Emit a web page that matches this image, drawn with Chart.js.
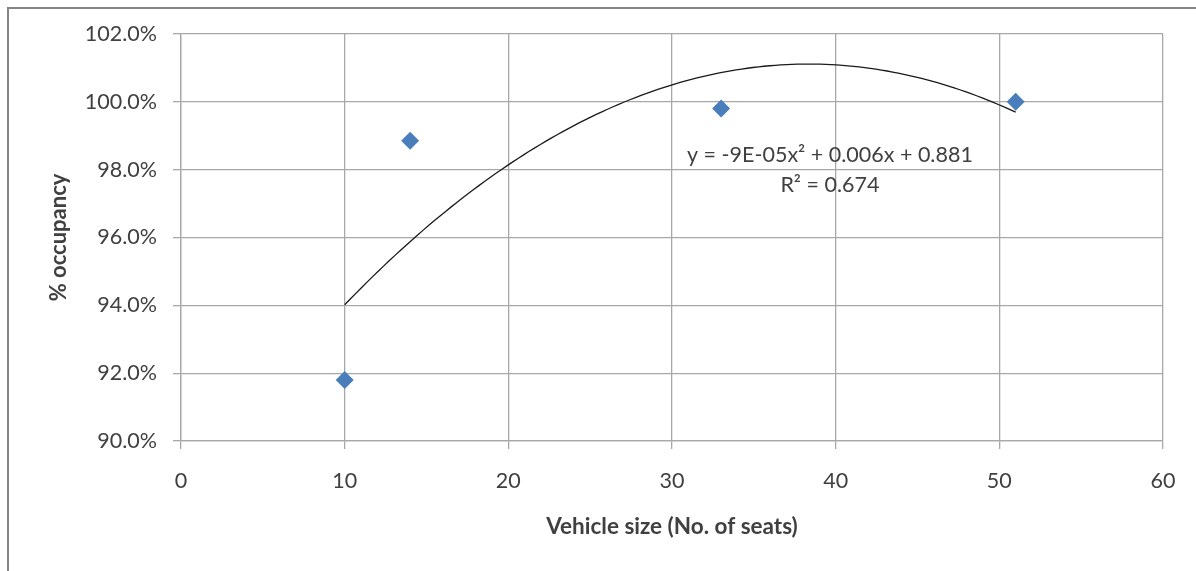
<!DOCTYPE html>
<html>
<head>
<meta charset="utf-8">
<title>Occupancy vs vehicle size</title>
<script src="https://cdn.jsdelivr.net/npm/chart.js@4/dist/chart.umd.min.js"></script>
<style>
  html, body { margin: 0; padding: 0; background: #ffffff; }
  #wrap { position: relative; width: 1196px; height: 571px; }
</style>
</head>
<body>
<div id="wrap"><canvas id="chart" width="1196" height="571"></canvas></div>
<script>
// Observed occupancy by vehicle size
const vehicleSeats = [10, 14, 33, 51];
const occupancy = [0.918, 0.9885, 0.998, 1.000];

// Axis ranges and ticks
const xTicks = [0, 10, 20, 30, 40, 50, 60];
const yTicks = [0.90, 0.92, 0.94, 0.96, 0.98, 1.00, 1.02];

// Trendline annotation text
const trendLabel = ['y = -9E-05x\u00B2 + 0.006x + 0.881', 'R\u00B2 = 0.674'];

const xTitle = 'Vehicle size (No. of seats)';
const yTitle = '% occupancy';

// Least-squares quadratic fit (y = a x^2 + b x + c) of the observations
function quadFit(xs, ys) {
  let s = [0, 0, 0, 0, 0], t = [0, 0, 0];
  xs.forEach((x, i) => {
    for (let k = 0; k < 5; k++) s[k] += Math.pow(x, k);
    for (let k = 0; k < 3; k++) t[k] += Math.pow(x, k) * ys[i];
  });
  // Normal equations, columns ordered c, b, a
  const M = [
    [s[0], s[1], s[2], t[0]],
    [s[1], s[2], s[3], t[1]],
    [s[2], s[3], s[4], t[2]]
  ];
  for (let i = 0; i < 3; i++) {
    for (let j = i + 1; j < 3; j++) {
      const f = M[j][i] / M[i][i];
      for (let k = i; k < 4; k++) M[j][k] -= f * M[i][k];
    }
  }
  const r = [0, 0, 0];
  for (let i = 2; i >= 0; i--) {
    let v = M[i][3];
    for (let k = i + 1; k < 3; k++) v -= M[i][k] * r[k];
    r[i] = v / M[i][i];
  }
  return { c: r[0], b: r[1], a: r[2] };
}

const fit = quadFit(vehicleSeats, occupancy);
const xFirst = Math.min(...vehicleSeats);
const xLast = Math.max(...vehicleSeats);
const trendPoints = [];
for (let i = 0; i <= 120; i++) {
  const x = xFirst + (xLast - xFirst) * i / 120;
  trendPoints.push({ x: x, y: fit.a * x * x + fit.b * x + fit.c });
}

const FONT = 'Lato, "Open Sans", sans-serif';
const TEXT = '#404040';
const GRID = '#a8a8a8';

// Outer frame around the chart
const framePlugin = {
  id: 'frame',
  beforeDraw(chart) {
    const ctx = chart.ctx;
    ctx.save();
    ctx.strokeStyle = '#858585';
    ctx.lineWidth = 2;
    ctx.beginPath();
    ctx.moveTo(8, chart.height);
    ctx.lineTo(8, 8);
    ctx.lineTo(chart.width, 8);
    ctx.stroke();
    ctx.restore();
  }
};

// Trendline equation text, positioned in data units
const trendTextPlugin = {
  id: 'trendText',
  afterDatasetsDraw(chart) {
    const ctx = chart.ctx;
    const xs = chart.scales.x, ys = chart.scales.y;
    const cx = xs.getPixelForValue(39.65);
    const cy = ys.getPixelForValue(0.9843);
    ctx.save();
    ctx.font = '21.5px ' + FONT;
    ctx.fillStyle = TEXT;
    ctx.textAlign = 'center';
    ctx.textBaseline = 'middle';
    trendLabel.forEach((line, i) => ctx.fillText(line, cx, cy + i * 30));
    ctx.restore();
  }
};

new Chart(document.getElementById('chart'), {
  type: 'scatter',
  data: {
    datasets: [
      {
        label: 'Occupancy',
        data: vehicleSeats.map((x, i) => ({ x: x, y: occupancy[i] })),
        pointStyle: 'rectRot',
        pointRadius: 9,
        pointHoverRadius: 9,
        backgroundColor: '#4a7ebb',
        borderColor: '#4a7ebb',
        borderWidth: 0,
        order: 1
      },
      {
        label: 'Poly. trend',
        data: trendPoints,
        showLine: true,
        pointRadius: 0,
        borderColor: '#1a1a1a',
        borderWidth: 1.3,
        tension: 0,
        order: 2
      }
    ]
  },
  options: {
    responsive: false,
    animation: false,
    layout: { padding: { left: 8, top: 34, right: 33, bottom: 0 } },
    plugins: {
      legend: { display: false },
      tooltip: { enabled: false }
    },
    scales: {
      x: {
        type: 'linear',
        min: xTicks[0],
        max: xTicks[xTicks.length - 1],
        afterBuildTicks(scale) { scale.ticks = xTicks.map(v => ({ value: v })); },
        afterFit(scale) { scale.height = 130; },
        grid: { color: GRID, lineWidth: 1.3, tickLength: 8 },
        border: { color: GRID, width: 1.3 },
        ticks: {
          color: TEXT,
          font: { family: FONT, size: 21.5 },
          padding: 19,
          maxRotation: 0,
          callback: v => String(v)
        },
        title: {
          display: true,
          text: xTitle,
          color: TEXT,
          font: { family: FONT, size: 22.5, weight: 'bold' },
          padding: { top: 0, bottom: 31 }
        }
      },
      y: {
        type: 'linear',
        min: yTicks[0],
        max: yTicks[yTicks.length - 1],
        afterBuildTicks(scale) { scale.ticks = yTicks.map(v => ({ value: v })); },
        afterFit(scale) { scale.width = 173; },
        grid: { color: GRID, lineWidth: 1.3, tickLength: 8 },
        border: { color: GRID, width: 1.3 },
        ticks: {
          color: TEXT,
          font: { family: FONT, size: 21.5 },
          padding: 16,
          callback: v => (v * 100).toFixed(1) + '%'
        },
        title: {
          display: true,
          text: yTitle,
          color: TEXT,
          font: { family: FONT, size: 22, weight: 'bold' },
          padding: { top: 38, bottom: 0 }
        }
      }
    }
  },
  plugins: [framePlugin, trendTextPlugin]
});
</script>
</body>
</html>
